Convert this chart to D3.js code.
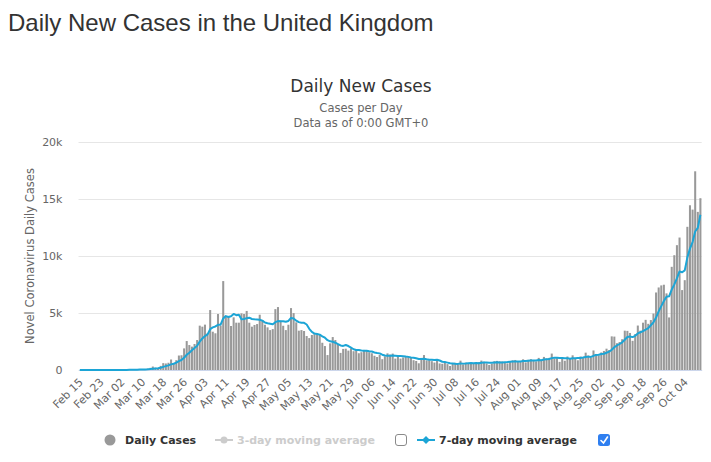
<!DOCTYPE html>
<html><head><meta charset="utf-8">
<script src="https://cdn.jsdelivr.net/npm/d3@7"></script>
<style>
html,body{margin:0;padding:0;background:#fff;}
svg{display:block;}
</style></head><body>
<svg id="chart" width="711" height="462"></svg>
<script>
// ---- data ----
const startDate = new Date(2020, 1, 15);   // Feb 15
const endDate   = new Date(2020, 9, 11);   // exclusive -> last day Oct 10
const categories = d3.timeDay.range(startDate, endDate);

const dailyCases = [0,0,0,0,0,0,0,0,0,0,0,0,2,5,3,
12,4,10,32,26,43,40,61,38,55,69,119,185,304,206,152,
362,602,572,635,921,592,861,1270,1292,1895,
2540,2190,2050,2280,2630,3890,3800,3980,3220,5260,
3360,3220,4910,3890,7800,4680,4680,3860,4620,4150,
4150,4970,4910,5180,4150,3800,3950,4030,4850,4380,
3970,3740,3500,3590,5340,5520,4320,3880,3500,3970,
5430,4990,4180,3450,3500,3420,2980,2800,3070,3150,
3210,3100,2390,2100,1310,2340,2890,2630,2280,1500,
1850,1870,1700,1900,1650,1800,1470,1560,1760,1700,
1560,1470,1250,1140,1330,950,1200,1460,1350,1440,
1000,1150,1000,1100,1210,1160,1100,860,790,590,
1060,1310,845,855,775,655,829,576,544,624,
516,352,581,630,512,820,500,650,530,598,
538,642,687,827,726,580,445,560,769,798,
767,747,685,581,763,846,880,744,742,938,
670,892,950,871,758,1062,816,1148,1009,1062,
1441,1012,1040,713,1089,812,1182,1033,1288,1041,
853,1184,1048,1522,1276,1108,1715,1406,1290,1540,
1670,1870,1750,2950,2930,2350,2450,2700,3450,3430,
3250,2560,3150,3900,3450,4150,4400,4050,4380,4950,
6800,7240,7420,7480,6720,4610,9050,10070,10950,11620,
7010,7880,12560,14450,14070,17430,13870,15070];

const movingAvg7 = [0,0,0,0,0,0,0,0,0,0,0,0,0,1,1,3,
4,5,10,13,19,24,31,36,42,47,61,81,119,139,156,200,
276,340,405,493,548,649,779,878,1067,1339,1520,1728,1931,2125,2496,2769,
2974,3121,3580,3734,3819,3964,3977,4523,4731,4649,4720,4920,4811,4849,4444,4477,
4549,4590,4473,4444,4427,4410,4334,4161,4103,4060,4009,4196,4291,4283,4270,4236,
4303,4566,4516,4324,4200,4146,4134,3993,3617,3343,3196,3161,3104,2957,2831,2619,
2514,2477,2394,2277,2150,2114,2194,2103,1961,1821,1753,1749,1707,1691,1691,1643,
1617,1539,1491,1459,1343,1271,1257,1240,1267,1247,1221,1229,1214,1179,1151,1103,
1083,1031,973,967,981,936,901,889,870,904,835,726,694,646,585,575,
546,537,576,559,578,603,606,593,611,592,639,650,657,635,638,656,
672,664,667,682,701,730,741,753,749,749,785,798,816,831,830,832,
877,860,928,945,961,1042,1079,1075,1061,1052,1024,1041,983,1022,1023,1043,
1056,1090,1138,1173,1147,1244,1323,1338,1408,1429,1514,1606,1782,2000,2151,2281,
2429,2654,2894,2937,2884,2999,3206,3313,3413,3551,3666,3926,4183,4597,5139,5606,
6046,6427,6460,7046,7513,8043,8643,8576,8741,9877,10649,11220,12146,12467,13619];

const yTicks = [0, 5000, 10000, 15000, 20000];
const yTickLabels = ["0", "5k", "10k", "15k", "20k"];
const xTickLabels = ["Feb 15","Feb 23","Mar 02","Mar 10","Mar 18","Mar 26","Apr 03","Apr 11",
  "Apr 19","Apr 27","May 05","May 13","May 21","May 29","Jun 06","Jun 14","Jun 22","Jun 30",
  "Jul 08","Jul 16","Jul 24","Aug 01","Aug 09","Aug 17","Aug 25","Sep 02","Sep 10","Sep 18",
  "Sep 26","Oct 04"];

// ---- drawing ----
const svg = d3.select("#chart");
const fontMain = "'Liberation Sans', Arial, sans-serif";
const fontChart = "'DejaVu Sans', sans-serif";
const plot = {left: 78.5, right: 701.7, top: 142, bottom: 370};

svg.append("text").attr("x", 8).attr("y", 31)
  .attr("font-family", fontMain).attr("font-size", 24).attr("fill", "#333")
  .text("Daily New Cases in the United Kingdom");

svg.append("text").attr("x", 361).attr("y", 92).attr("text-anchor", "middle")
  .attr("font-family", fontChart).attr("font-size", 17).attr("fill", "#333")
  .text("Daily New Cases");
svg.append("text").attr("x", 361).attr("y", 112).attr("text-anchor", "middle")
  .attr("font-family", fontChart).attr("font-size", 11.5).attr("fill", "#666")
  .text("Cases per Day");
svg.append("text").attr("x", 361).attr("y", 127).attr("text-anchor", "middle")
  .attr("font-family", fontChart).attr("font-size", 11.5).attr("fill", "#666")
  .text("Data as of 0:00 GMT+0");

const x = d3.scaleBand().domain(categories.map((d, i) => i))
  .range([plot.left, plot.right]).paddingInner(0.22).paddingOuter(0.11);
const y = d3.scaleLinear().domain([0, 20000]).range([plot.bottom, plot.top]);

// grid + y axis
const yAxis = svg.append("g").attr("transform", `translate(${plot.left},0)`)
  .call(d3.axisLeft(y).tickValues(yTicks).tickSize(-(plot.right - plot.left))
    .tickFormat((d, i) => yTickLabels[i]).tickPadding(16));
yAxis.select(".domain").remove();
yAxis.selectAll(".tick line").attr("stroke", "#e6e6e6");
yAxis.selectAll(".tick text").attr("font-family", fontChart).attr("font-size", 11)
  .attr("fill", "#666").attr("dy", "0.35em");

svg.append("text")
  .attr("transform", `translate(34,256) rotate(-90)`)
  .attr("text-anchor", "middle").attr("font-family", fontChart).attr("font-size", 11.5)
  .attr("fill", "#666").text("Novel Coronavirus Daily Cases");

// bars
svg.append("g").selectAll("rect").data(dailyCases).join("rect")
  .attr("x", (d, i) => x(i)).attr("width", x.bandwidth())
  .attr("y", d => y(d)).attr("height", d => y(0) - y(d))
  .attr("fill", "#999");

// x axis
const fmt = d3.timeFormat("%b %d");
const tickIdx = categories.map((d, i) => i).filter(i => xTickLabels.includes(fmt(categories[i])));
const xAxis = svg.append("g").attr("transform", `translate(0,${plot.bottom})`)
  .call(d3.axisBottom(x).tickValues(tickIdx).tickSize(0).tickFormat(i => fmt(categories[i])));
xAxis.select(".domain").attr("stroke", "#ccd6eb");
xAxis.selectAll(".tick text").attr("font-family", fontChart).attr("font-size", 11)
  .attr("fill", "#666").attr("text-anchor", "end")
  .attr("transform", "translate(-1,8) rotate(-45)").attr("dy", "0.35em").attr("y", 3);

// 7-day moving average line
const line = d3.line().x((d, i) => x(i) + x.bandwidth() / 2).y(d => y(d));
svg.append("path").datum(movingAvg7).attr("d", line)
  .attr("fill", "none").attr("stroke", "#1ca5d6").attr("stroke-width", 2)
  .attr("stroke-linejoin", "round");

// legend
const lg = svg.append("g").attr("font-family", fontChart).attr("font-size", 11)
  .attr("font-weight", "bold");
lg.append("circle").attr("cx", 110).attr("cy", 440).attr("r", 5.5).attr("fill", "#999");
lg.append("text").attr("x", 125).attr("y", 444).attr("fill", "#333").text("Daily Cases");
lg.append("line").attr("x1", 215).attr("x2", 233).attr("y1", 440).attr("y2", 440)
  .attr("stroke", "#ccc").attr("stroke-width", 2);
lg.append("circle").attr("cx", 224).attr("cy", 440).attr("r", 3.5).attr("fill", "#ccc");
lg.append("text").attr("x", 237).attr("y", 444).attr("fill", "#ccc").text("3-day moving average");
lg.append("rect").attr("x", 395.5).attr("y", 434.5).attr("width", 11).attr("height", 11)
  .attr("rx", 2.5).attr("fill", "#fff").attr("stroke", "#8a8a8a");
lg.append("line").attr("x1", 417).attr("x2", 435).attr("y1", 440).attr("y2", 440)
  .attr("stroke", "#1ca5d6").attr("stroke-width", 2);
lg.append("path").attr("d", "M426,436 L430,440 L426,444 L422,440 Z").attr("fill", "#1ca5d6");
lg.append("text").attr("x", 439).attr("y", 444).attr("fill", "#333").text("7-day moving average");
lg.append("rect").attr("x", 598).attr("y", 434).attr("width", 12).attr("height", 12)
  .attr("rx", 2.5).attr("fill", "#2f7ff0");
lg.append("path").attr("d", "M601,440.5 L603.5,443 L607.5,437").attr("fill", "none")
  .attr("stroke", "#fff").attr("stroke-width", 1.6).attr("stroke-linecap", "round");
</script></body></html>
